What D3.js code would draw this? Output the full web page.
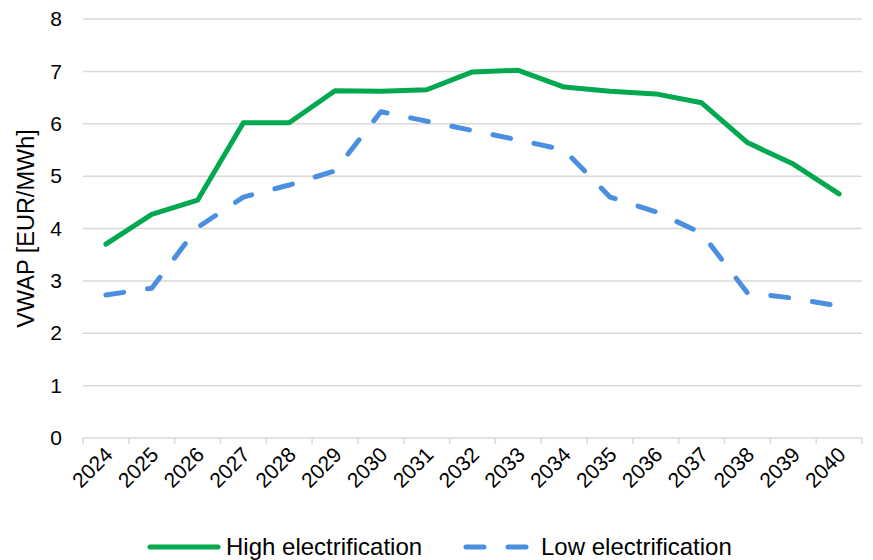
<!DOCTYPE html>
<html>
<head>
<meta charset="utf-8">
<script src="https://cdn.jsdelivr.net/npm/d3@7"></script>
<style>
  body { margin: 0; background: #fff; }
  text { font-family: "Liberation Sans", Arial, sans-serif; fill: #000; }
</style>
</head>
<body>
<div id="chart"></div>
<script>
// chart data
const years = ["2024","2025","2026","2027","2028","2029","2030","2031","2032","2033","2034","2035","2036","2037","2038","2039","2040"];
const highElectrification = [3.70, 4.27, 4.54, 6.02, 6.02, 6.63, 6.62, 6.65, 6.99, 7.02, 6.70, 6.62, 6.57, 6.40, 5.64, 5.23, 4.66];
const lowElectrification = [2.73, 2.86, 4.02, 4.60, 4.83, 5.10, 6.23, 6.05, 5.87, 5.69, 5.50, 4.60, 4.32, 3.91, 2.77, 2.67, 2.52];
const yTicks = [0, 1, 2, 3, 4, 5, 6, 7, 8];

const width = 873, height = 560;
const margin = {top: 19, right: 11, bottom: 122, left: 83};

let svg = d3.select("#chart")
  .append("svg")
  .attr("width", width)
  .attr("height", height);

let g = svg.append("g")
  .attr("transform", `translate(${margin.left}, ${margin.top})`);

let plotW = width - margin.left - margin.right;
let plotH = height - margin.top - margin.bottom;

// band scale for category positions, linear for values
let x = d3.scaleBand()
  .domain(years)
  .range([0, plotW]);

let y = d3.scaleLinear()
  .domain([0, 8])
  .range([plotH, 0]);

// gridlines
g.append("g")
  .selectAll("line")
  .data(yTicks.slice(1))
  .enter()
  .append("line")
  .attr("x1", 0)
  .attr("x2", plotW)
  .attr("y1", d => y(d))
  .attr("y2", d => y(d))
  .style("stroke", "#d9d9d9")
  .style("stroke-width", 1.5);

// y axis labels
let yAxis = g.append("g")
  .call(d3.axisLeft(y).tickValues(yTicks).tickSize(0).tickPadding(21));
yAxis.select(".domain").remove();
yAxis.selectAll("text")
  .style("font-size", "21px")
  .style("font-family", "Liberation Sans, Arial, sans-serif");

// x axis with tick marks at category edges
let xAxis = g.append("g")
  .attr("transform", `translate(0, ${plotH})`);
xAxis.append("line")
  .attr("x1", 0).attr("x2", plotW)
  .attr("y1", 0).attr("y2", 0)
  .style("stroke", "#d9d9d9")
  .style("stroke-width", 1.5);
xAxis.selectAll("line.tick")
  .data(d3.range(years.length + 1))
  .enter()
  .append("line")
  .attr("class", "tick")
  .attr("x1", i => i * x.step())
  .attr("x2", i => i * x.step())
  .attr("y1", 0)
  .attr("y2", 6)
  .style("stroke", "#d9d9d9")
  .style("stroke-width", 1.5);
xAxis.selectAll("text")
  .data(years)
  .enter()
  .append("text")
  .attr("transform", d => `translate(${x(d) + x.bandwidth() / 2 + 8}, 18) rotate(-45)`)
  .style("text-anchor", "end")
  .style("font-size", "21px")
  .text(d => d);

// lines
let line = d3.line()
  .x((d, i) => x(years[i]) + x.bandwidth() / 2)
  .y(d => y(d));

g.append("path")
  .datum(lowElectrification)
  .attr("d", line)
  .attr("fill", "none")
  .attr("stroke", "#4a8fe0")
  .attr("stroke-width", 5)
  .attr("stroke-linecap", "round")
  .attr("stroke-linejoin", "round")
  .attr("stroke-dasharray", "18,24");

g.append("path")
  .datum(highElectrification)
  .attr("d", line)
  .attr("fill", "none")
  .attr("stroke", "#00a84f")
  .attr("stroke-width", 5)
  .attr("stroke-linecap", "round")
  .attr("stroke-linejoin", "round");

// y axis title
svg.append("text")
  .attr("transform", `translate(34, ${margin.top + plotH / 2}) rotate(-90)`)
  .style("text-anchor", "middle")
  .style("font-size", "23.5px")
  .text("VWAP [EUR/MWh]");

// legend
let legend = svg.append("g")
  .attr("transform", `translate(0, 547)`);
legend.append("line")
  .attr("x1", 150).attr("x2", 218)
  .attr("y1", 0).attr("y2", 0)
  .attr("stroke", "#00a84f")
  .attr("stroke-width", 5)
  .attr("stroke-linecap", "round");
legend.append("text")
  .attr("x", 226).attr("y", 8)
  .style("font-size", "24px")
  .text("High electrification");
legend.append("line")
  .attr("x1", 466).attr("x2", 530)
  .attr("y1", 0).attr("y2", 0)
  .attr("stroke", "#4a8fe0")
  .attr("stroke-width", 5)
  .attr("stroke-linecap", "round")
  .attr("stroke-dasharray", "18,24");
legend.append("text")
  .attr("x", 541).attr("y", 8)
  .style("font-size", "24px")
  .text("Low electrification");
</script>
</body>
</html>
